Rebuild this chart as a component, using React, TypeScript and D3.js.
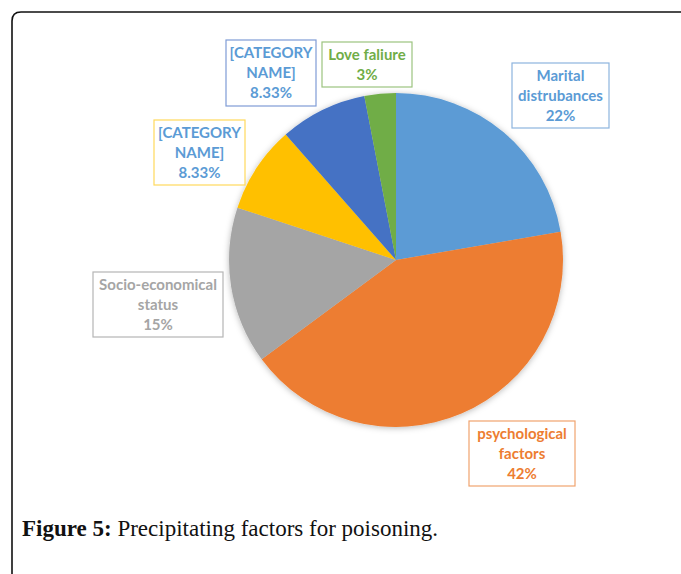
import React from "react";
import * as d3 from "d3";

// Precipitating factors for poisoning (share of cases, %)
const categories = [
  "Marital distrubances",
  "psychological factors",
  "Socio-economical status",
  "[CATEGORY NAME]",
  "[CATEGORY NAME]",
  "Love faliure",
];
const values = [22, 42, 15, 8.33, 8.33, 3];
const valueLabels = ["22%", "42%", "15%", "8.33%", "8.33%", "3%"];
const labelLines = [
  ["Marital", "distrubances"],
  ["psychological", "factors"],
  ["Socio-economical", "status"],
  ["[CATEGORY", "NAME]"],
  ["[CATEGORY", "NAME]"],
  ["Love faliure"],
];

// Office palette for slices; label text/border colours per slice
const sliceColors = ["#5B9BD5", "#ED7D31", "#A5A5A5", "#FFC000", "#4472C4", "#70AD47"];
const textColors = ["#5B9BD5", "#ED7D31", "#A5A5A5", "#5B9BD5", "#5B9BD5", "#70AD47"];
const borderColors = ["#8DB4DE", "#F0A36E", "#B5B5B5", "#FFD95C", "#7F9CD6", "#9CC47F"];

// Label box layout: centre x, centre y, width, height
const labelBoxes = [
  { cx: 560.5, cy: 95.5, w: 97, h: 65 },
  { cx: 522, cy: 453.5, w: 106, h: 65 },
  { cx: 158, cy: 304.5, w: 130, h: 65 },
  { cx: 199.5, cy: 152.5, w: 91, h: 65 },
  { cx: 271, cy: 73, w: 90, h: 66 },
  { cx: 367, cy: 64.5, w: 90, h: 45 },
];

const W = 681;
const H = 574;
const CX = 396;
const CY = 260;
const R = 167;
const LINE = 20;

export default function App() {
  const pie = d3
    .pie<number>()
    .sort(null)
    .value((d) => d)
    .startAngle(0)
    .endAngle(2 * Math.PI);
  const arcs = pie(values);
  const arc = d3.arc<d3.PieArcDatum<number>>().innerRadius(0).outerRadius(R);

  return (
    <svg
      width={W}
      height={H}
      style={{ position: "absolute", left: 0, top: 0, display: "block", background: "#fff" }}
    >
      <defs>
        <filter id="pieShadow" x="-20%" y="-20%" width="140%" height="140%">
          <feDropShadow dx="0" dy="1" stdDeviation="3" floodColor="#000" floodOpacity="0.28" />
        </filter>
      </defs>

      {/* page frame */}
      <path
        d={`M12,${H} L12,21 Q12,12 21,12 L${W},12`}
        fill="none"
        stroke="#111"
        strokeWidth={1.6}
      />

      <g transform={`translate(${CX},${CY})`} filter="url(#pieShadow)">
        {arcs.map((a, i) => (
          <path key={categories[i] + i} d={arc(a) || ""} fill={sliceColors[i]} />
        ))}
      </g>

      {arcs.map((a, i) => {
        const b = labelBoxes[i];
        const lines = [...labelLines[i], valueLabels[i]];
        const top = b.cy - ((lines.length - 1) * LINE) / 2;
        return (
          <g key={"lbl" + i}>
            <rect
              x={b.cx - b.w / 2}
              y={b.cy - b.h / 2}
              width={b.w}
              height={b.h}
              fill="#fff"
              stroke={borderColors[i]}
              strokeWidth={1.2}
            />
            <text
              textAnchor="middle"
              fontFamily="Lato, 'Open Sans', sans-serif"
              fontWeight={700}
              fontSize={15}
              fill={textColors[i]}
            >
              {lines.map((t, j) => (
                <tspan key={j} x={b.cx} y={top + j * LINE} dy="0.35em">
                  {t}
                </tspan>
              ))}
            </text>
          </g>
        );
      })}

      <text x={22} y={536} fontFamily="'Liberation Serif', serif" fontSize={23} fill="#111">
        <tspan fontWeight={700}>Figure 5:</tspan>
        <tspan> Precipitating factors for poisoning.</tspan>
      </text>
    </svg>
  );
}
